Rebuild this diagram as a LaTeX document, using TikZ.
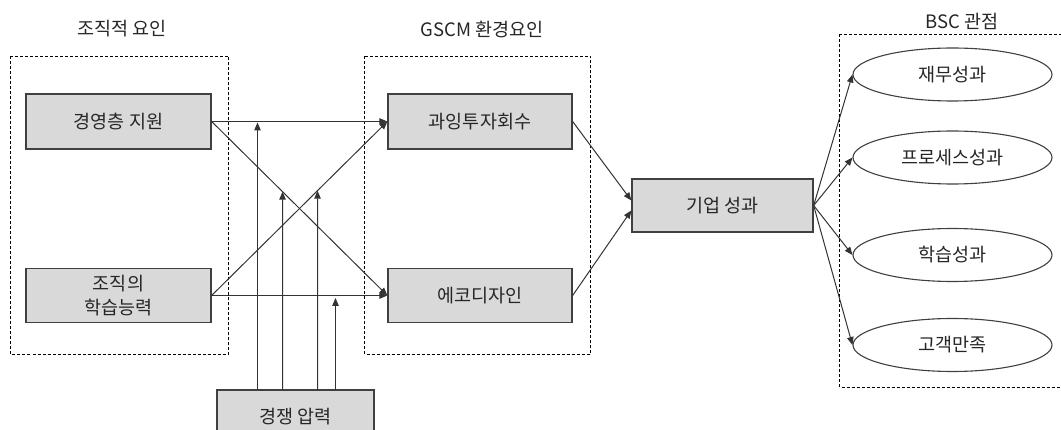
\documentclass[tikz,border=0pt]{standalone}
\usepackage{fontspec}
\setmainfont{Noto Sans CJK KR}
\usetikzlibrary{arrows.meta,shapes.geometric,calc}
\definecolor{boxfill}{HTML}{D9D9D9}
\definecolor{boxline}{HTML}{404040}
\definecolor{txt}{HTML}{262626}
\definecolor{conn}{HTML}{333333}
\begin{document}
\begin{tikzpicture}[x=1pt,y=-1pt,
  every node/.style={font=\fontsize{18.5}{21}\selectfont, text=txt},
  gbox/.style={draw=boxline, line width=1.3pt, fill=boxfill, inner sep=0pt, align=center},
  oval/.style={ellipse, draw=boxline, line width=1.1pt, fill=white, inner sep=0pt, minimum width=199pt, minimum height=53pt},
  group/.style={draw=black, line width=0.9pt, dash pattern=on 3pt off 2pt},
  conn/.style={draw=conn, line width=1pt, -{Triangle[length=8pt,width=6.5pt]}},
  grouplabel/.style={inner sep=0pt, anchor=center}]
\useasboundingbox (0,0) rectangle (1061,430);
\clip (0,0) rectangle (1061,430);
% group frames
\draw[group] (10.5,56.5) rectangle (228.5,354.5);
\draw[group] (364.5,56.5) rectangle (590.5,354.5);
\draw[group] (839.5,34.5) rectangle (1070,387.5);
\node[grouplabel] (l1) at (122,29) {조직적 요인};
\node[grouplabel] (l2) at (482,30) {GSCM 환경요인};
\node[grouplabel] (l3) at (962,21) {BSC 관점};
% boxes
\node[gbox, minimum width=185pt, minimum height=55pt] (a) at (118.5,121.5) {경영층 지원};
\node[gbox, minimum width=185pt, minimum height=54pt, font=\fontsize{18.5}{24}\selectfont] (b) at (118.5,295.5) {조직의\\학습능력};
\node[gbox, minimum width=184pt, minimum height=55pt] (c) at (480,121.5) {과잉투자회수};
\node[gbox, minimum width=184pt, minimum height=54pt] (d) at (480,295.5) {에코디자인};
\node[gbox, minimum width=181pt, minimum height=53pt] (e) at (722.5,205.5) {기업 성과};
\node[gbox, minimum width=157pt, minimum height=53pt] (p) at (295.5,416.5) {경쟁 압력};
% ellipses
\node[oval] (f1) at (952.5,74.5) {재무성과};
\node[oval] (f2) at (952.5,157.5) {프로세스성과};
\node[oval] (f3) at (952.5,255) {학습성과};
\node[oval] (f4) at (952.5,345) {고객만족};
% connectors between factor boxes
\draw[conn] (a.east) -- (c.west);
\draw[conn] (b.east) -- (d.west);
\draw[conn] (a.east) -- (d.west);
\draw[conn] (b.east) -- (c.west);
% pressure arrows
\coordinate (q1) at (257.5,390);
\coordinate (q2) at (282.5,390);
\coordinate (q3) at (317.5,390);
\coordinate (q4) at (335.5,390);
\coordinate (r1) at (257.5,122.5);
\coordinate (r2) at (intersection of a.east--d.west and q2--{(282.5,0)});
\coordinate (r3) at (intersection of b.east--c.west and q3--{(317.5,0)});
\coordinate (r4) at (335.5,298);
\draw[conn] (q1) -- (r1);
\draw[conn] (q2) -- (r2);
\draw[conn] (q3) -- (r3);
\draw[conn] (q4) -- (r4);
% to firm performance
\draw[conn] (c.east) -- ($(e.west)+(0,-5)$);
\draw[conn] (d.east) -- ($(e.west)+(0,5)$);
% to BSC
\draw[conn] (e.east) -- (f1.west);
\draw[conn] (e.east) -- (f2.west);
\draw[conn] (e.east) -- (f3.west);
\draw[conn] (e.east) -- (f4.west);
\end{tikzpicture}
\end{document}
